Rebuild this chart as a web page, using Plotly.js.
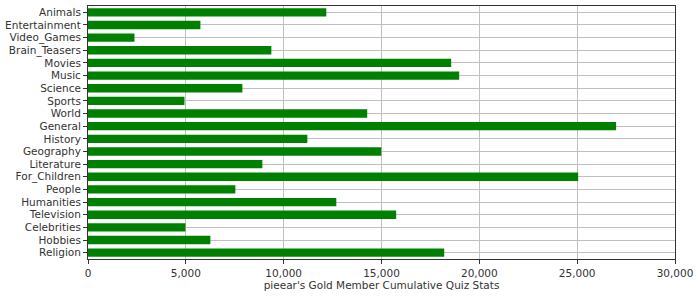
<!DOCTYPE html>
<html>
<head>
<meta charset="utf-8">
<script src="https://cdn.plot.ly/plotly-3.0.1.min.js"></script>
<style>html,body{margin:0;padding:0;background:#fff;}#chart{width:700px;height:300px;}</style>
</head>
<body>
<div id="chart"></div>
<script>
const categories = ["Animals","Entertainment","Video_Games","Brain_Teasers","Movies","Music","Science","Sports","World","General","History","Geography","Literature","For_Children","People","Humanities","Television","Celebrities","Hobbies","Religion"];
const values = [12180,5745,2375,9370,18560,18970,7890,4930,14270,26990,11210,14990,8910,25050,7530,12690,15750,4980,6255,18205];
const xTickVals = [0,5000,10000,15000,20000,25000,30000];
const xTickText = ["0","5,000","10,000","15,000","20,000","25,000","30,000"];
const xTitle = "pieear's Gold Member Cumulative Quiz Stats";

const trace = {
  type: "bar",
  orientation: "h",
  y: categories,
  x: values,
  marker: {color: "#008000", line: {width: 0}},
  hoverinfo: "none"
};
const layout = {
  width: 700, height: 300,
  margin: {l: 87.5, r: 25, t: 6, b: 41},
  paper_bgcolor: "#ffffff",
  plot_bgcolor: "#ffffff",
  bargap: 0.34,
  showlegend: false,
  font: {family: "DejaVu Sans, sans-serif", size: 10, color: "#333333"},
  xaxis: {
    range: [0, 30000],
    tickvals: xTickVals, ticktext: xTickText,
    showgrid: true, gridcolor: "#c0c0c0", gridwidth: 1,
    zeroline: false,
    showline: true, linecolor: "#333333", linewidth: 1, mirror: true,
    ticks: "outside", ticklen: 4, tickcolor: "#333333",
    tickfont: {size: 10.5, color: "#333333"},
    title: {text: xTitle, font: {size: 10.5, color: "#333333"}, standoff: 4}
  },
  yaxis: {
    type: "category",
    autorange: "reversed",
    tickmode: "array", tickvals: categories, ticktext: categories,
    showgrid: true, gridcolor: "#c0c0c0", gridwidth: 1,
    zeroline: false,
    showline: true, linecolor: "#333333", linewidth: 1, mirror: true,
    ticks: "outside", ticklen: 4, tickcolor: "#333333",
    tickfont: {size: 10.5, color: "#333333"}
  }
};
Plotly.newPlot("chart", [trace], layout, {displayModeBar: false, staticPlot: true});
</script>
</body>
</html>
